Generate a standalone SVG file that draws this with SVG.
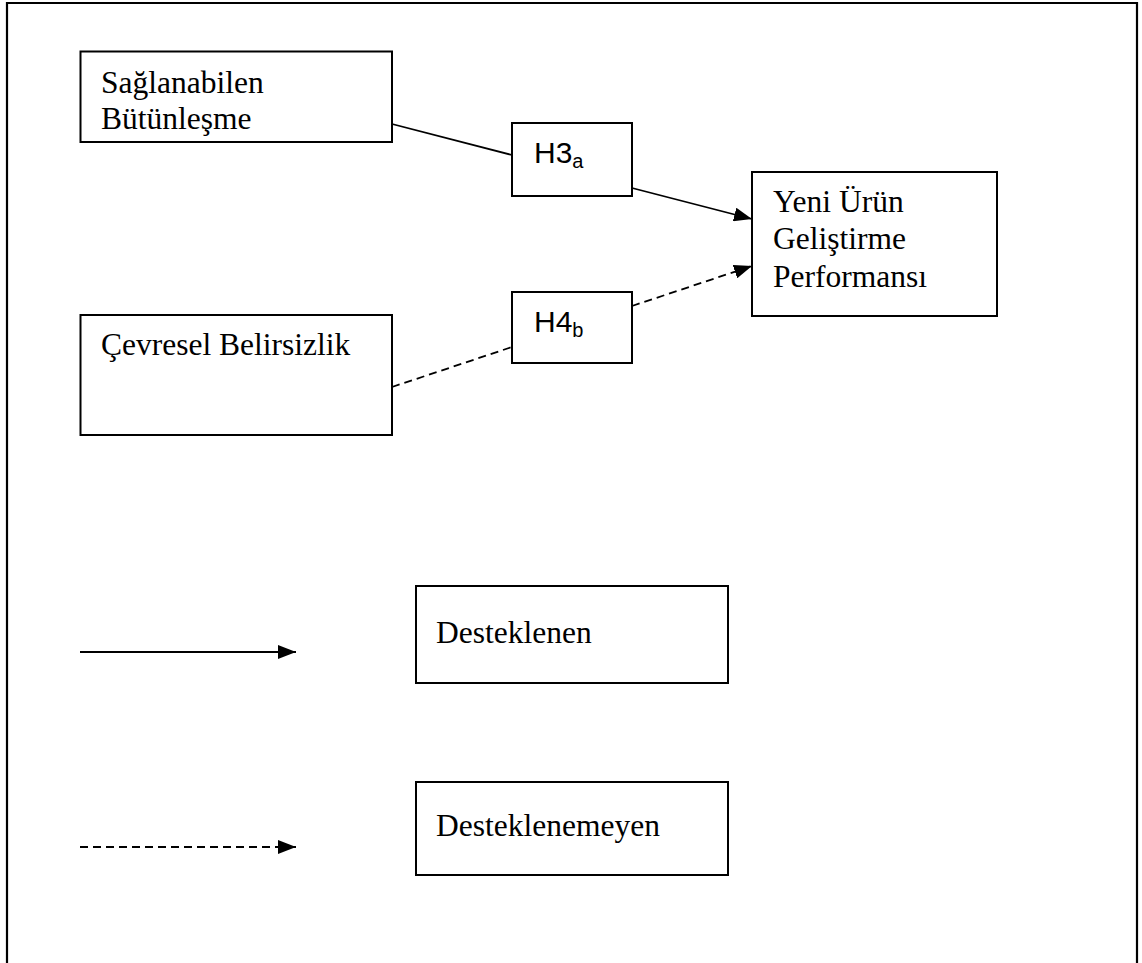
<svg xmlns="http://www.w3.org/2000/svg" width="1142" height="963" viewBox="0 0 1142 963">
<style>
.box{fill:#fff;stroke:#000;stroke-width:2}
.t{font-family:"Liberation Serif","Times New Roman",serif;font-size:31.5px;fill:#000}
.h{font-family:"Liberation Sans",Arial,sans-serif;font-size:30px;fill:#000}
.sub{font-size:20px}
.ln{stroke:#000;stroke-width:1.8;fill:none}
.dash{stroke-dasharray:8 5}
</style>
<defs>
<marker id="arr" markerUnits="userSpaceOnUse" markerWidth="18" markerHeight="14" refX="18" refY="7" orient="auto">
<path d="M0,0 L18,7 L0,14 z" fill="#000"/>
</marker>
</defs>
<rect width="1142" height="963" fill="#fff"/>
<path d="M7,970 V3 H1137 V970" fill="none" stroke="#000" stroke-width="2.2"/>
<g id="connectors">
<line class="ln" x1="392" y1="124" x2="512" y2="155"/>
<line class="ln" x1="632" y1="188" x2="752" y2="219" marker-end="url(#arr)"/>
<line class="ln dash" x1="392" y1="387" x2="512" y2="347"/>
<line class="ln dash" x1="632" y1="306" x2="752" y2="266" marker-end="url(#arr)"/>
<line class="ln" x1="80" y1="652" x2="296" y2="652" marker-end="url(#arr)"/>
<line class="ln dash" x1="80" y1="847" x2="296" y2="847" marker-end="url(#arr)"/>
</g>
<g id="node-saglanabilen">
<rect class="box" x="80.5" y="51.5" width="311.5" height="90.5"/>
<text class="t" x="101" y="93">Sağlanabilen</text>
<text class="t" x="101" y="129">Bütünleşme</text>
</g>
<g id="node-cevresel">
<rect class="box" x="80.5" y="315" width="311.5" height="120"/>
<text class="t" x="101" y="355">Çevresel Belirsizlik</text>
</g>
<g id="node-h3a">
<rect class="box" x="512" y="123" width="120" height="73"/>
<text class="h" x="534" y="163">H3<tspan class="sub" dy="5">a</tspan></text>
</g>
<g id="node-h4b">
<rect class="box" x="512" y="292" width="120" height="71"/>
<text class="h" x="534" y="332">H4<tspan class="sub" dy="5">b</tspan></text>
</g>
<g id="node-yeni">
<rect class="box" x="752" y="172" width="245" height="144"/>
<text class="t" x="773" y="212">Yeni Ürün</text>
<text class="t" x="773" y="249">Geliştirme</text>
<text class="t" x="773" y="287">Performansı</text>
</g>
<g id="node-desteklenen">
<rect class="box" x="416" y="586" width="312" height="97"/>
<text class="t" x="436" y="643">Desteklenen</text>
</g>
<g id="node-desteklenemeyen">
<rect class="box" x="416" y="782" width="312" height="93"/>
<text class="t" x="436" y="836">Desteklenemeyen</text>
</g>
</svg>
